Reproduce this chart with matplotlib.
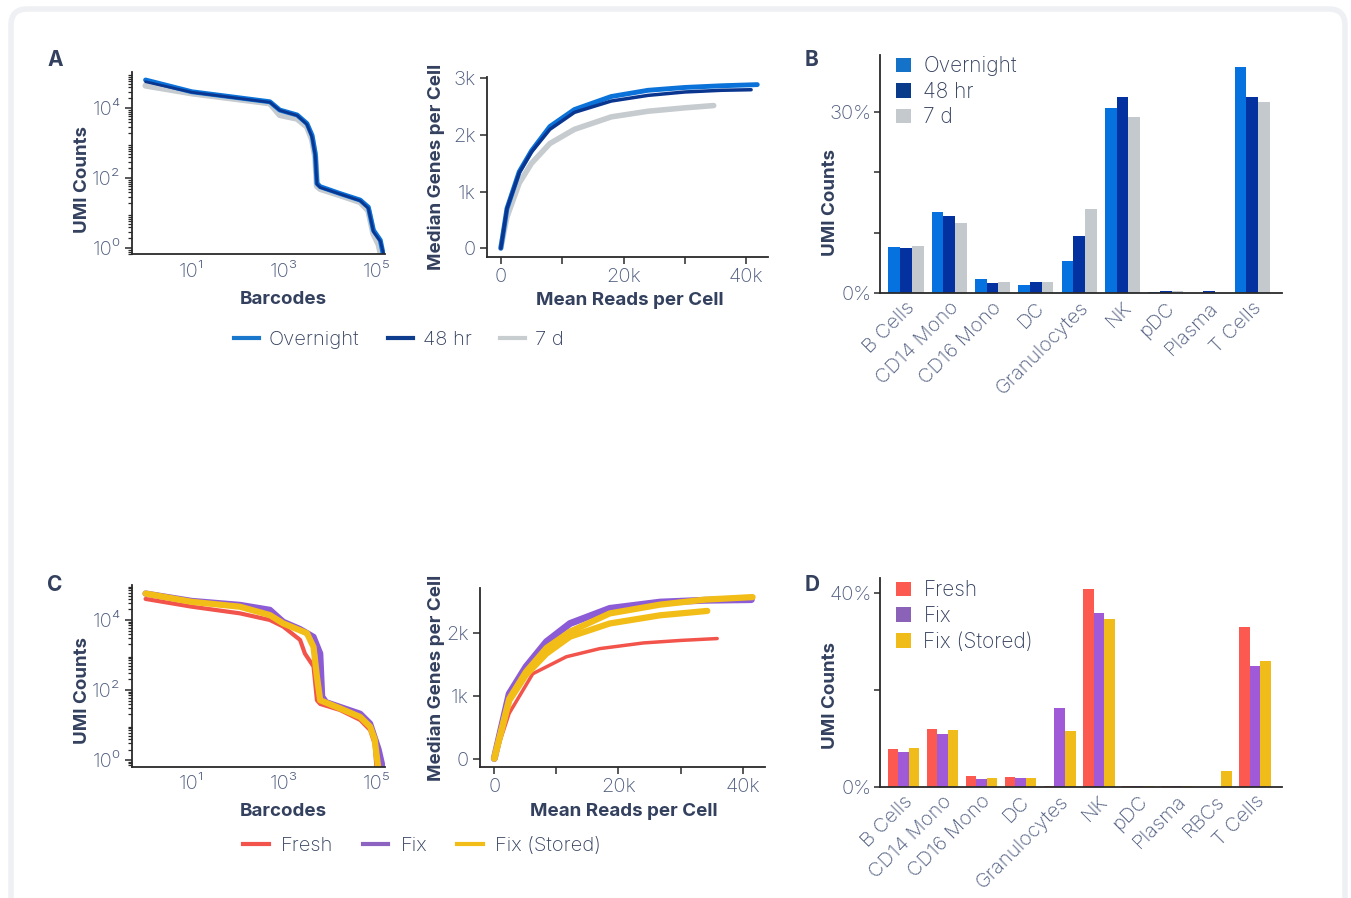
import matplotlib
matplotlib.use("Agg")
import matplotlib.pyplot as plt
from matplotlib.ticker import FixedLocator, FixedFormatter, NullLocator, LogLocator
from matplotlib.patches import FancyBboxPatch, Patch
from matplotlib.lines import Line2D
import numpy as np

plt.rcParams['font.family'] = ['Inter', 'DejaVu Sans']
plt.rcParams['font.weight'] = 'light'

TXT = '#33405e'
TICK = '#4e5c7e'
SPINE = '#2a2a2a'

# ---------------- data ----------------
# panel A, barcode rank plot (rank, UMI counts)
a_rank_overnight = [1, 10, 490, 800, 1900, 3100, 4000, 4700, 5100, 6000, 16000, 44000, 66000, 85000, 120000, 145000]
a_umi_overnight = [65000, 30000, 15500, 9000, 6500, 3700, 1700, 500, 72, 58, 37, 24, 15, 3.3, 1.7, 0.5]
a_rank_48hr = [1, 10, 490, 800, 1900, 3100, 4000, 4700, 5100, 6000, 16000, 44000, 66000, 85000, 120000, 150000]
a_umi_48hr = [58000, 29000, 15000, 8800, 6300, 3500, 1500, 450, 68, 55, 36, 23, 14, 3.0, 1.6, 0.5]
a_rank_7d = [1, 10, 490, 800, 1900, 3100, 4000, 4700, 5100, 6000, 16000, 44000, 66000, 85000, 110000, 130000]
a_umi_7d = [45000, 27000, 14000, 6500, 5100, 3000, 1300, 400, 60, 50, 33, 21, 12, 2.6, 1.3, 0.5]

# panel A, saturation (mean reads per cell, median genes per cell)
a_reads_overnight = [0, 1000, 3000, 5000, 8000, 12000, 18000, 24000, 30000, 36000, 41800]
a_genes_overnight = [0, 700, 1350, 1720, 2150, 2450, 2680, 2790, 2840, 2870, 2890]
a_reads_48hr = [0, 1000, 3000, 5000, 8000, 12000, 18000, 24000, 30000, 36000, 40800]
a_genes_48hr = [0, 700, 1330, 1700, 2100, 2400, 2600, 2700, 2760, 2790, 2800]
a_reads_7d = [0, 1000, 3000, 5000, 8000, 12000, 18000, 24000, 30000, 34700]
a_genes_7d = [0, 550, 1150, 1500, 1850, 2100, 2320, 2420, 2480, 2520]

# panel B, cell type proportions (%)
b_types = ['B Cells', 'CD14 Mono', 'CD16 Mono', 'DC', 'Granulocytes', 'NK', 'pDC', 'Plasma', 'T Cells']
b_overnight = [7.7, 13.5, 2.3, 1.3, 5.3, 30.7, 0.2, 0.1, 37.4]
b_48hr = [7.5, 12.8, 1.7, 1.9, 9.4, 32.4, 0.3, 0.3, 32.4]
b_7d = [7.9, 11.7, 1.8, 1.8, 13.9, 29.2, 0.3, 0.05, 31.7]

# panel C, barcode rank plot
c_rank_fresh = [1, 10, 110, 490, 950, 2200, 2800, 4300, 5100, 6000, 16000, 44000, 72000, 90000, 100000]
c_umi_fresh = [40000, 24000, 15500, 10000, 6500, 2700, 1100, 470, 51, 40, 27, 14, 7.2, 3.0, 0.5]
c_rank_fix = [1, 10, 110, 490, 950, 2200, 4300, 6000, 6600, 8000, 16000, 44000, 72000, 110000, 140000]
c_umi_fix = [57000, 35000, 27000, 19500, 8900, 5500, 3300, 1100, 65, 45, 33, 21, 11, 2.0, 0.5]
c_rank_stored = [1, 10, 110, 490, 950, 3100, 4300, 5100, 6000, 16000, 44000, 72000, 90000, 110000]
c_umi_stored = [57000, 33000, 24000, 13800, 8000, 4200, 1700, 240, 51, 30, 17, 9, 4.0, 0.5]

# panel C, saturation
c_reads_fresh = [0, 2400, 6200, 11600, 17000, 24000, 30000, 35900]
c_genes_fresh = [0, 720, 1350, 1620, 1750, 1840, 1880, 1910]
c_reads_fix = [0, 2400, 5100, 8400, 12200, 18600, 26700, 34000, 41400]
c_genes_fix = [0, 1030, 1460, 1860, 2150, 2390, 2490, 2520, 2530]
c_reads_stored1 = [0, 2400, 5100, 8400, 12200, 18600, 26700, 34000, 41600]
c_genes_stored1 = [0, 950, 1380, 1760, 2020, 2310, 2450, 2530, 2570]
c_reads_stored2 = [0, 2400, 5100, 8400, 12200, 18600, 26700, 34300]
c_genes_stored2 = [0, 920, 1330, 1670, 1940, 2150, 2280, 2350]

# panel D, cell type proportions (%)
d_types = ['B Cells', 'CD14 Mono', 'CD16 Mono', 'DC', 'Granulocytes', 'NK', 'pDC', 'Plasma', 'RBCs', 'T Cells']
d_fresh = [7.9, 11.9, 2.3, 2.0, 0.1, 40.9, 0.1, 0.1, 0.0, 33.0]
d_fix = [7.2, 10.9, 1.6, 1.7, 16.2, 35.9, 0.1, 0.1, 0.0, 25.0]
d_stored = [8.0, 11.8, 1.8, 1.7, 11.5, 34.6, 0.1, 0.1, 3.2, 25.9]

rank_xticks = [10, 1000, 100000]
rank_xlabels = ['10¹', '10³', '10⁵']
rank_yticks = [1, 100, 10000]
rank_ylabels = ['10⁰', '10²', '10⁴']
reads_ticks = [0, 10000, 20000, 30000, 40000]
reads_labels = ['0', '', '20k', '', '40k']

# colours
C_OVER, C_48, C_7D = '#0a72d8', '#0a3690', '#c6cbcf'
B_OVER, B_48, B_7D = '#0572e0', '#0431a0', '#c4c9cd'
C_FRESH, C_FIX, C_STORED = '#f2544b', '#8c5bd6', '#f2bd17'
B_FRESH, B_FIX, B_STORED = '#fc5a50', '#a05ad8', '#f0bc1a'

W, H = 1351, 898
fig = plt.figure(figsize=(W / 100, H / 100), dpi=100)


def px_axes(l, r, t, b):
    return fig.add_axes([l / W, 1 - b / H, (r - l) / W, (b - t) / H])


def style(ax):
    for s in ['top', 'right']:
        ax.spines[s].set_visible(False)
    for s in ['left', 'bottom']:
        ax.spines[s].set_color(SPINE)
        ax.spines[s].set_linewidth(1.3)
    ax.tick_params(colors=SPINE, labelcolor=TICK, labelsize=14.5, length=5, width=1.1, pad=3)


def rank_plot(ax, series, ylim, ylab_y):
    for x, y, c, lw in series:
        ax.plot(x, y, color=c, lw=lw, solid_capstyle='round')
    ax.set_xscale('log')
    ax.set_yscale('log')
    ax.set_xlim(10 ** -0.3, 10 ** 5.18)
    ax.set_ylim(*ylim)
    style(ax)
    ax.xaxis.set_major_locator(FixedLocator(rank_xticks))
    ax.xaxis.set_major_formatter(FixedFormatter(rank_xlabels))
    ax.xaxis.set_minor_locator(NullLocator())
    ax.tick_params(axis='x', length=0, pad=6)
    ax.yaxis.set_major_locator(FixedLocator(rank_yticks))
    ax.yaxis.set_major_formatter(FixedFormatter(rank_ylabels))
    ax.yaxis.set_minor_locator(LogLocator(base=10, subs=np.arange(2, 10), numticks=20))
    ax.tick_params(axis='y', which='minor', length=3, width=0.9, color=SPINE)
    ax.set_ylabel('UMI Counts', fontsize=13.5, fontweight='bold', color=TXT)
    ax.set_xlabel('Barcodes', fontsize=13.5, fontweight='bold', color=TXT)
    ax.yaxis.set_label_coords(-0.16, ylab_y)
    ax.xaxis.set_label_coords(0.597, -0.2)


def sat_plot(ax, series, ylim, yticks, ylabels):
    for x, y, c, lw in series:
        ax.plot(x, y, color=c, lw=lw, solid_capstyle='round')
    style(ax)
    ax.set_xlim(-2300, 43600)
    ax.set_ylim(*ylim)
    ax.xaxis.set_major_locator(FixedLocator(reads_ticks))
    ax.xaxis.set_major_formatter(FixedFormatter(reads_labels))
    ax.yaxis.set_major_locator(FixedLocator(yticks))
    ax.yaxis.set_major_formatter(FixedFormatter(ylabels))
    ax.set_ylabel('Median Genes per Cell', fontsize=13.5, fontweight='bold', color=TXT)
    ax.set_xlabel('Mean Reads per Cell', fontsize=13.5, fontweight='bold', color=TXT)


def bar_plot(ax, types, groups, ymax, yticks, ylabels, labels, ylab_y):
    x = np.arange(len(types))
    w = 0.27
    for i, (vals, c) in enumerate(groups):
        ax.bar(x + (i - 1) * w, vals, width=w, color=c, linewidth=0)
    style(ax)
    ax.set_xlim(-0.6, len(types) - 1 + 0.68)
    ax.set_ylim(0, ymax)
    ax.set_xticks(x)
    ax.set_xticklabels(types, rotation=45, ha='right', rotation_mode='anchor')
    ax.tick_params(axis='x', length=0, pad=4)
    ax.yaxis.set_major_locator(FixedLocator(yticks))
    ax.yaxis.set_major_formatter(FixedFormatter(ylabels))
    ax.tick_params(axis='y', length=4, pad=2)
    ax.set_ylabel('UMI Counts', fontsize=13.5, fontweight='bold', color=TXT)
    ax.yaxis.set_label_coords(-0.102, ylab_y)
    handles = [Patch(facecolor=c, edgecolor='none') for _, c in groups]
    ax.legend(handles, labels, loc='upper left', bbox_to_anchor=(0.02, 1.03), frameon=False,
              fontsize=15, labelcolor=TXT, handlelength=0.7, handleheight=0.7,
              handletextpad=0.6, labelspacing=0.27, borderaxespad=0)


# ---- panel A ----
ax1 = px_axes(131.7, 385, 71.7, 254.3)
rank_plot(ax1, [(a_rank_7d, a_umi_7d, C_7D, 4.5),
                (a_rank_overnight, a_umi_overnight, C_OVER, 3.5),
                (a_rank_48hr, a_umi_48hr, C_48, 2.0)], (10 ** -0.17, 10 ** 5.05), 0.407)

ax2 = px_axes(486.7, 768.3, 76.7, 256.7)
sat_plot(ax2, [(a_reads_7d, a_genes_7d, C_7D, 4),
               (a_reads_overnight, a_genes_overnight, C_OVER, 3.5),
               (a_reads_48hr, a_genes_48hr, C_48, 2.5)],
         (-150, 3030), [0, 1000, 2000, 3000], ['0', '1k', '2k', '3k'])
ax2.yaxis.set_label_coords(-0.148, 0.5)
ax2.xaxis.set_label_coords(0.509, -0.198)

fig.legend([Line2D([], [], color=c, lw=3) for c in ['#1a78cc', '#0d3d8c', '#c8cdd0']],
           ['Overnight', '48 hr', '7 d'], loc='center', bbox_to_anchor=(399 / W, 1 - 340 / H),
           ncol=3, frameon=False, fontsize=14.5, labelcolor=TXT, handlelength=1.25,
           handletextpad=0.5, columnspacing=1.4)

# ---- panel B ----
ax3 = px_axes(880, 1281.7, 55, 293.3)
bar_plot(ax3, b_types, [(b_overnight, B_OVER), (b_48hr, B_48), (b_7d, B_7D)], 39.4,
         [0, 10, 20, 30], ['0%', '', '', '30%'], ['Overnight', '48 hr', '7 d'], 0.379)
ax3.get_legend().legend_handles[0].set_facecolor('#1473c8')
ax3.get_legend().legend_handles[1].set_facecolor('#0a3b8a')

# ---- panel C ----
ax4 = px_axes(131.7, 385, 585, 766.7)
rank_plot(ax4, [(c_rank_fix, c_umi_fix, C_FIX, 4.5),
                (c_rank_fresh, c_umi_fresh, C_FRESH, 3),
                (c_rank_stored, c_umi_stored, C_STORED, 4.5)], (10 ** -0.19, 10 ** 5.0), 0.422)

ax5 = px_axes(480, 765, 588.3, 766.7)
sat_plot(ax5, [(c_reads_fresh, c_genes_fresh, C_FRESH, 2.5),
               (c_reads_fix, c_genes_fix, C_FIX, 5),
               (c_reads_stored1, c_genes_stored1, C_STORED, 4.5),
               (c_reads_stored2, c_genes_stored2, C_STORED, 4.5)],
         (-130, 2710), [0, 1000, 2000], ['0', '1k', '2k'])
ax5.yaxis.set_label_coords(-0.123, 0.5)
ax5.xaxis.set_label_coords(0.505, -0.203)

fig.legend([Line2D([], [], color=c, lw=3) for c in [C_FRESH, '#8d63c2', C_STORED]],
           ['Fresh', 'Fix', 'Fix (Stored)'], loc='center', bbox_to_anchor=(422 / W, 1 - 846 / H),
           ncol=3, frameon=False, fontsize=14.5, labelcolor=TXT, handlelength=1.25,
           handletextpad=0.6, columnspacing=1.5)

# ---- panel D ----
ax6 = px_axes(880, 1281.7, 578.3, 786.7)
bar_plot(ax6, d_types, [(d_fresh, B_FRESH), (d_fix, B_FIX), (d_stored, B_STORED)], 43.1,
         [0, 20, 40], ['0%', '', '40%'], ['Fresh', 'Fix', 'Fix (Stored)'], 0.44)
ax6.get_legend().legend_handles[1].set_facecolor('#8a62b8')

# panel letters
for letter, x, y in [('A', 55, 60), ('B', 812, 60), ('C', 55, 585), ('D', 812, 585)]:
    fig.text(x / W, 1 - y / H, letter, ha='center', va='center', fontsize=15,
             fontweight='bold', color=TXT)

# light card border
fig.patches.append(FancyBboxPatch((11 / W, -0.05), (1334) / W, 1.05 - 9 / H,
                                  boxstyle='round,pad=0,rounding_size=0.012',
                                  mutation_aspect=W / H, transform=fig.transFigure,
                                  facecolor='none', edgecolor='#eef0f3', lw=4))

fig.savefig('out.png', dpi=100)
